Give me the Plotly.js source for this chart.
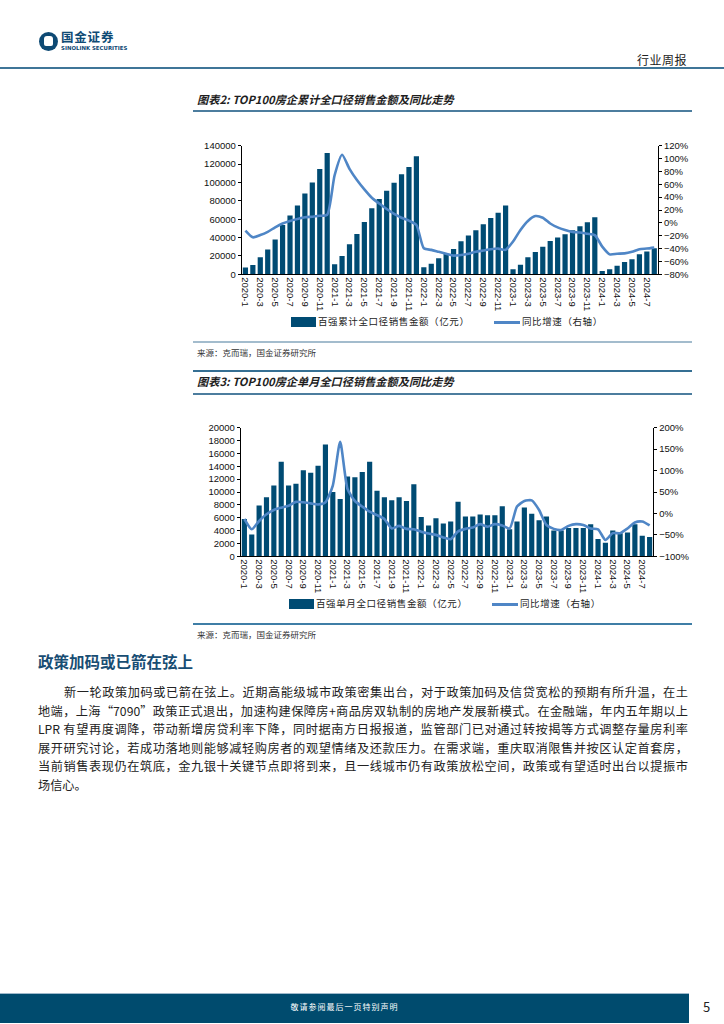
<!DOCTYPE html>
<html><head><meta charset="utf-8">
<script src="https://cdn.plot.ly/plotly-3.0.1.min.js"></script>
<style>
body{margin:0;width:724px;height:1024px;position:relative;background:#fff;font-family:"Noto Sans CJK SC","Noto Sans",sans-serif;overflow:hidden;color:#222}
#chart{position:absolute;left:0;top:0;width:724px;height:1024px;z-index:1}
.abs{position:absolute;white-space:nowrap;z-index:2;line-height:1}
.hl{position:absolute;height:0;z-index:2}
.ttl{font-size:11.2px;font-weight:bold;font-style:italic;color:#1e1e1e}
.src{font-size:8.5px;color:#333}
.lg{font-size:9.5px;color:#222;letter-spacing:0.6px}
.sw{position:absolute;z-index:2}
.pl{position:absolute;left:38px;width:650px;font-size:12.2px;line-height:1;text-align:justify;text-align-last:justify;white-space:nowrap;z-index:2;color:#222}
</style></head>
<body>
<div id="chart"></div>

<!-- header -->
<div class="sw" style="left:39px;top:32px;width:19px;height:19px;border-radius:50%;background:#0e4a74"></div>
<div class="sw" style="left:44px;top:36px;width:9px;height:10px;border-radius:3px 3px 2px 2px;background:#fff"></div>
<div class="abs" style="left:61px;top:31px;font-size:12.5px;font-weight:bold;color:#0e4a74;letter-spacing:0.8px">国金证券</div>
<div class="abs" style="left:61px;top:46px;font-size:5.4px;font-weight:bold;color:#0e4a74;font-family:'DejaVu Sans',sans-serif">SINOLINK SECURITIES</div>
<div class="abs" style="left:637px;top:54px;font-size:12px;color:#222;letter-spacing:0.5px">行业周报</div>
<div class="hl" style="left:0;top:67px;width:724px;border-top:2px solid #3f7598"></div>

<!-- chart 1 title -->
<div class="abs ttl" style="left:197px;top:94px">图表2: TOP100房企累计全口径销售金额及同比走势</div>
<div class="hl" style="left:193px;top:110px;width:499px;border-top:2px solid #4c7d9e"></div>
<!-- chart 1 legend -->
<div class="sw" style="left:291px;top:317px;width:25px;height:10px;background:#004b73"></div>
<div class="abs lg" style="left:318px;top:317px">百强累计全口径销售金额（亿元）</div>
<div class="sw" style="left:494px;top:321px;width:26px;height:3px;background:#4f86c6"></div>
<div class="abs lg" style="left:522px;top:317px">同比增速（右轴）</div>
<div class="hl" style="left:193px;top:341px;width:499px;border-top:2px solid #a3bccd"></div>
<div class="abs src" style="left:197px;top:348px">来源：克而瑞，国金证券研究所</div>

<!-- chart 2 title -->
<div class="hl" style="left:193px;top:370px;width:499px;border-top:2px solid #356f93"></div>
<div class="abs ttl" style="left:197px;top:376px">图表3: TOP100房企单月全口径销售金额及同比走势</div>
<div class="hl" style="left:193px;top:393px;width:499px;border-top:2px solid #4c7d9e"></div>
<!-- chart 2 legend -->
<div class="sw" style="left:289px;top:599px;width:25px;height:10px;background:#004b73"></div>
<div class="abs lg" style="left:316px;top:599px">百强单月全口径销售金额（亿元）</div>
<div class="sw" style="left:492px;top:603px;width:26px;height:3px;background:#4f86c6"></div>
<div class="abs lg" style="left:520px;top:599px">同比增速（右轴）</div>
<div class="hl" style="left:193px;top:623px;width:499px;border-top:2px solid #3f7ea6"></div>
<div class="abs src" style="left:197px;top:630px">来源：克而瑞，国金证券研究所</div>

<!-- section -->
<div class="abs" style="left:38px;top:654px;font-size:15.5px;font-weight:bold;color:#184d73">政策加码或已箭在弦上</div>
<div class="pl" style="top:686px;left:64px;width:624px">新一轮政策加码或已箭在弦上。近期高能级城市政策密集出台，对于政策加码及信贷宽松的预期有所升温，在土</div>
<div class="pl" style="top:704.5px">地端，上海“7090”政策正式退出，加速构建保障房+商品房双轨制的房地产发展新模式。在金融端，年内五年期以上</div>
<div class="pl" style="top:723px">LPR 有望再度调降，带动新增房贷利率下降，同时据南方日报报道，监管部门已对通过转按揭等方式调整存量房利率</div>
<div class="pl" style="top:741.5px">展开研究讨论，若成功落地则能够减轻购房者的观望情绪及还款压力。在需求端，重庆取消限售并按区认定首套房，</div>
<div class="pl" style="top:760px">当前销售表现仍在筑底，金九银十关键节点即将到来，且一线城市仍有政策放松空间，政策或有望适时出台以提振市</div>
<div class="abs" style="top:778.5px;left:38px;font-size:12.2px;color:#222">场信心。</div>

<!-- footer -->
<div class="sw" style="left:0;top:993px;width:689px;height:29px;background:#004b6e;border-top:1px solid #9fb9cb"></div>
<div class="abs" style="left:0;width:689px;top:1003px;text-align:center;font-size:8px;color:#fff;letter-spacing:1px">敬请参阅最后一页特别声明</div>
<div class="abs" style="left:703px;top:1000px;font-size:13px;color:#222">5</div>

<script>
const months = ['2020-1','2020-2','2020-3','2020-4','2020-5','2020-6','2020-7','2020-8','2020-9','2020-10','2020-11','2020-12',
'2021-1','2021-2','2021-3','2021-4','2021-5','2021-6','2021-7','2021-8','2021-9','2021-10','2021-11','2021-12',
'2022-1','2022-2','2022-3','2022-4','2022-5','2022-6','2022-7','2022-8','2022-9','2022-10','2022-11','2022-12',
'2023-1','2023-2','2023-3','2023-4','2023-5','2023-6','2023-7','2023-8','2023-9','2023-10','2023-11','2023-12',
'2024-1','2024-2','2024-3','2024-4','2024-5','2024-6','2024-7','2024-8'];
const tickLabels = ['2020-1','2020-3','2020-5','2020-7','2020-9','2020-11','2021-1','2021-3','2021-5','2021-7','2021-9','2021-11',
'2022-1','2022-3','2022-5','2022-7','2022-9','2022-11','2023-1','2023-3','2023-5','2023-7','2023-9','2023-11','2024-1','2024-3','2024-5','2024-7'];

// 图表2: 累计 (亿元) and 同比 (%)
const cumSales = [7300,10000,18500,27000,38000,53700,64000,75000,88000,100000,114600,132000,
11000,20000,32600,44000,57000,71800,82000,91000,99700,108800,116800,128400,
7600,11600,17400,22000,27500,36000,42300,47900,54400,61300,67000,75000,
5400,10500,18500,24300,30000,36300,40000,43500,48000,52200,56600,62000,
3600,5400,9400,13400,16300,21800,24700,28300];
const cumYoY = [-12,-22.5,-19,-14,-7,-1,3,6,8.6,9.6,11,12.7,
74,106,84,66.6,52,39,30,21.5,14,8,3.4,-3.3,
-39.6,-42,-45,-48,-51,-50,-48,-45,-43,-41,-40,-42,
-29,-11,3,10.6,8,-1,-7,-11,-14,-15,-17,-19,
-37,-49,-48,-47.5,-45,-41,-40,-38.5];

// 图表3: 单月 (亿元) and 同比 (%)
const monthSales = [5800,3400,7900,9200,11000,14700,11000,11300,13400,13000,14100,17400,
10000,8900,12400,12300,13100,14700,10200,9200,8700,9200,8600,11200,
6100,4800,5900,5100,5400,8500,6200,6200,6500,6400,6400,7800,
4200,5400,7600,6600,5600,6200,4000,4000,4400,4400,4400,5000,
2700,2100,4000,3600,3700,5000,3200,3000];
const monthYoY = [-13,-37,-17.6,-2,8,13.4,18,27,26,23.5,21,26,
65,167,57,29,16,4,-4,-13,-35,-29,-36,-37,
-42.5,-47,-50,-56,-60,-42,-36,-33,-25,-31,-25,-28,
-35,16,29,30.5,8,-27,-36,-38.6,-29,-25,-27,-35,
-37,-62,-46,-46,-35,-21,-19,-28];

const W = 724, H = 1024;
const px = x => x / W, py = y => 1 - y / H;
const barColor = '#004b73', lineColor = '#4f86c6';
const tf = {family:'Arial, "Liberation Sans", sans-serif', size:9.5, color:'#111'};

const traces = [
  {type:'bar', x:months, y:cumSales, xaxis:'x', yaxis:'y', marker:{color:barColor}, name:'百强累计全口径销售金额（亿元）'},
  {type:'scatter', mode:'lines', x:months, y:cumYoY, xaxis:'x', yaxis:'y2', line:{color:lineColor, width:2.6, shape:'spline', smoothing:0.6}, name:'同比增速（右轴）'},
  {type:'bar', x:months, y:monthSales, xaxis:'x2', yaxis:'y3', marker:{color:barColor}, name:'百强单月全口径销售金额（亿元）'},
  {type:'scatter', mode:'lines', x:months, y:monthYoY, xaxis:'x2', yaxis:'y4', line:{color:lineColor, width:2.6, shape:'spline', smoothing:0.6}, name:'同比增速（右轴）'}
];

const xBase = {type:'category', tickvals:tickLabels, ticktext:tickLabels, tickangle:90, tickfont:tf,
  showline:true, linecolor:'#000', linewidth:1, ticks:'', showgrid:false, zeroline:false, fixedrange:true};
const yBase = {showline:true, linecolor:'#000', linewidth:1, ticks:'outside', ticklen:3, tickcolor:'#000',
  tickfont:tf, showgrid:false, zeroline:false, fixedrange:true};

const layout = {
  width:W, height:H, margin:{l:0,r:0,t:0,b:0},
  paper_bgcolor:'rgba(0,0,0,0)', plot_bgcolor:'rgba(0,0,0,0)',
  showlegend:false, bargap:0.3,
  xaxis: Object.assign({}, xBase, {domain:[px(241.7), px(658)], anchor:'y'}),
  yaxis: Object.assign({}, yBase, {domain:[py(274.3), py(145.7)], anchor:'x', range:[0,140000], dtick:20000, tickformat:'d'}),
  yaxis2: Object.assign({}, yBase, {overlaying:'y', side:'right', anchor:'x', range:[-80,120], dtick:20, ticksuffix:'%'}),
  xaxis2: Object.assign({}, xBase, {domain:[px(240.7), px(653.3)], anchor:'y3'}),
  yaxis3: Object.assign({}, yBase, {domain:[py(556.3), py(427.7)], anchor:'x2', range:[0,20000], dtick:2000, tickformat:'d'}),
  yaxis4: Object.assign({}, yBase, {overlaying:'y3', side:'right', anchor:'x2', range:[-100,200], dtick:50, ticksuffix:'%'})
};

Plotly.newPlot('chart', traces, layout, {staticPlot:true, displayModeBar:false});
</script>
</body></html>
